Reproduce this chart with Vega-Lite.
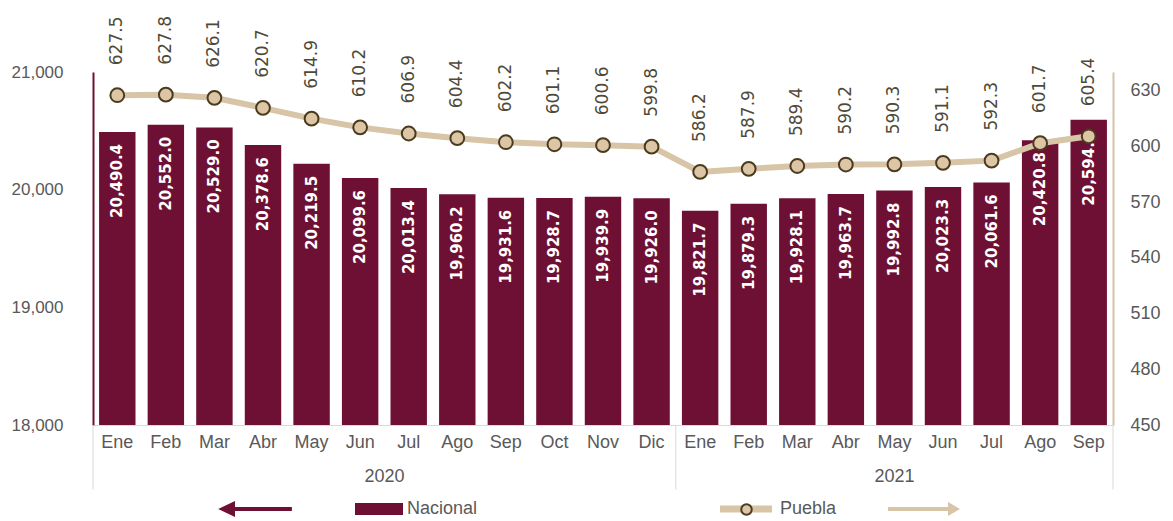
{
  "$schema": "https://vega.github.io/schema/vega-lite/v6.json",
  "width": 1020,
  "height": 353,
  "autosize": {"type": "none"},
  "padding": {"left": 93, "top": 72, "right": 60, "bottom": 96},
  "background": "white",
  "data": {
    "values": [
      {"key": "Ene 2020", "mes": "Ene", "anio": "2020", "nacional": 20490.4, "puebla": 627.5},
      {"key": "Feb 2020", "mes": "Feb", "anio": "2020", "nacional": 20552.0, "puebla": 627.8},
      {"key": "Mar 2020", "mes": "Mar", "anio": "2020", "nacional": 20529.0, "puebla": 626.1},
      {"key": "Abr 2020", "mes": "Abr", "anio": "2020", "nacional": 20378.6, "puebla": 620.7},
      {"key": "May 2020", "mes": "May", "anio": "2020", "nacional": 20219.5, "puebla": 614.9},
      {"key": "Jun 2020", "mes": "Jun", "anio": "2020", "nacional": 20099.6, "puebla": 610.2},
      {"key": "Jul 2020", "mes": "Jul", "anio": "2020", "nacional": 20013.4, "puebla": 606.9},
      {"key": "Ago 2020", "mes": "Ago", "anio": "2020", "nacional": 19960.2, "puebla": 604.4},
      {"key": "Sep 2020", "mes": "Sep", "anio": "2020", "nacional": 19931.6, "puebla": 602.2},
      {"key": "Oct 2020", "mes": "Oct", "anio": "2020", "nacional": 19928.7, "puebla": 601.1},
      {"key": "Nov 2020", "mes": "Nov", "anio": "2020", "nacional": 19939.9, "puebla": 600.6},
      {"key": "Dic 2020", "mes": "Dic", "anio": "2020", "nacional": 19926.0, "puebla": 599.8},
      {"key": "Ene 2021", "mes": "Ene", "anio": "2021", "nacional": 19821.7, "puebla": 586.2},
      {"key": "Feb 2021", "mes": "Feb", "anio": "2021", "nacional": 19879.3, "puebla": 587.9},
      {"key": "Mar 2021", "mes": "Mar", "anio": "2021", "nacional": 19928.1, "puebla": 589.4},
      {"key": "Abr 2021", "mes": "Abr", "anio": "2021", "nacional": 19963.7, "puebla": 590.2},
      {"key": "May 2021", "mes": "May", "anio": "2021", "nacional": 19992.8, "puebla": 590.3},
      {"key": "Jun 2021", "mes": "Jun", "anio": "2021", "nacional": 20023.3, "puebla": 591.1},
      {"key": "Jul 2021", "mes": "Jul", "anio": "2021", "nacional": 20061.6, "puebla": 592.3},
      {"key": "Ago 2021", "mes": "Ago", "anio": "2021", "nacional": 20420.8, "puebla": 601.7},
      {"key": "Sep 2021", "mes": "Sep", "anio": "2021", "nacional": 20594.9, "puebla": 605.4}
    ]
  },
  "layer": [
    {
      "layer": [
        {
          "mark": {"type": "bar"},
          "encoding": {
            "x": {
              "field": "key", "type": "nominal", "sort": null,
              "scale": {
                "domain": ["Ene 2020","Feb 2020","Mar 2020","Abr 2020","May 2020","Jun 2020","Jul 2020","Ago 2020","Sep 2020","Oct 2020","Nov 2020","Dic 2020","Ene 2021","Feb 2021","Mar 2021","Abr 2021","May 2021","Jun 2021","Jul 2021","Ago 2021","Sep 2021"],
                "paddingInner": 0.25, "paddingOuter": 0.125
              },
              "axis": {
                "title": null, "labelAngle": 0, "ticks": false,
                "domainColor": "#d9d9d9", "domainWidth": 1,
                "labelPadding": 8, "labelBaseline": "top",
                "labelExpr": "split(datum.label, ' ')[0]",
                "labelFont": "Liberation Sans Narrow, Liberation Sans, sans-serif",
                "labelFontSize": 18, "labelColor": "#595959"
              }
            },
            "y": {
              "field": "nacional", "type": "quantitative",
              "scale": {"domain": [18000, 21000], "zero": false, "nice": false},
              "axis": {
                "title": null, "orient": "left", "values": [18000, 19000, 20000, 21000],
                "format": ",d", "ticks": false, "grid": false,
                "domainColor": "#6e1034", "domainWidth": 2,
                "labelPadding": 30,
                "labelFont": "Liberation Sans Narrow, Liberation Sans, sans-serif",
                "labelFontSize": 17, "labelColor": "#595959"
              }
            },
            "y2": {"datum": 18000},
            "fill": {
              "datum": "Nacional", "type": "nominal",
              "scale": {"range": ["#6e1034"]},
              "legend": {
                "title": null, "orient": "none", "legendX": 262, "legendY": 413,
                "padding": 0, "symbolSize": 2304, "symbolStrokeWidth": 0,
                "symbolType": "M-1,-0.25H1V0.25H-1Z M-6.7,0L-6,-0.33L-6,-0.083H-3.63V0.083H-6L-6,0.33Z",
                "labelOffset": 4,
                "labelFont": "Liberation Sans Narrow, Liberation Sans, sans-serif",
                "labelFontSize": 18, "labelColor": "#595959"
              }
            }
          }
        },
        {
          "mark": {"type": "text", "angle": 270, "align": "right", "baseline": "middle", "dx": -12, "fill": "white", "font": "DejaVu Sans", "fontWeight": "bold", "fontSize": 15},
          "encoding": {
            "x": {"field": "key", "type": "nominal", "axis": {"title": null}},
            "y": {"field": "nacional", "type": "quantitative", "axis": {"title": null}},
            "text": {"field": "nacional", "type": "quantitative", "format": ",.1f"}
          }
        },
        {
          "transform": [{"filter": "datum.mes == 'Ene'"}],
          "mark": {"type": "rule", "color": "#d9d9d9", "strokeWidth": 1},
          "encoding": {
            "x": {"field": "key", "type": "nominal", "bandPosition": -0.1667, "axis": {"title": null}},
            "y": {"datum": 18000, "axis": {"title": null}},
            "y2": {"datum": 17452}
          }
        },
        {
          "transform": [{"filter": "datum.key == 'Sep 2021'"}],
          "mark": {"type": "rule", "color": "#d9d9d9", "strokeWidth": 1},
          "encoding": {
            "x": {"field": "key", "type": "nominal", "bandPosition": 1.1667, "axis": {"title": null}},
            "y": {"datum": 18000, "axis": {"title": null}},
            "y2": {"datum": 17452}
          }
        },
        {
          "transform": [{"filter": "datum.key == 'Jul 2020'"}],
          "mark": {"type": "text", "baseline": "middle", "align": "center", "font": "Liberation Sans Narrow, Liberation Sans, sans-serif", "fontSize": 18, "fill": "#595959"},
          "encoding": {
            "x": {"field": "key", "type": "nominal", "bandPosition": -0.1667, "axis": {"title": null}},
            "y": {"datum": 17554, "axis": {"title": null}},
            "text": {"field": "anio"}
          }
        },
        {
          "transform": [{"filter": "datum.key == 'May 2021'"}],
          "mark": {"type": "text", "baseline": "middle", "align": "center", "font": "Liberation Sans Narrow, Liberation Sans, sans-serif", "fontSize": 18, "fill": "#595959"},
          "encoding": {
            "x": {"field": "key", "type": "nominal", "axis": {"title": null}},
            "y": {"datum": 17554, "axis": {"title": null}},
            "text": {"field": "anio"}
          }
        }
      ]
    },
    {
      "layer": [
        {
          "mark": {"type": "line", "strokeWidth": 6},
          "encoding": {
            "x": {"field": "key", "type": "nominal", "axis": {"title": null}},
            "y": {
              "field": "puebla", "type": "quantitative",
              "scale": {"domain": [450, 640], "zero": false, "nice": false},
              "axis": {
                "title": null, "orient": "right", "values": [450, 480, 510, 540, 570, 600, 630],
                "ticks": false, "grid": false,
                "domainColor": "#d4c4a8", "domainWidth": 2,
                "labelPadding": 17,
                "labelFont": "Liberation Sans Narrow, Liberation Sans, sans-serif",
                "labelFontSize": 18, "labelColor": "#595959"
              }
            },
            "stroke": {
              "datum": "Puebla", "type": "nominal",
              "scale": {"range": ["#d8c4a6"]},
              "legend": {
                "title": null, "orient": "none", "legendX": 627, "legendY": 411,
                "padding": 0, "symbolSize": 2704,
                "symbolType": "M-1,-0.13H1V0.13H-1Z M5.46,-0.077H7.77V-0.27L8.23,0L7.77,0.27V0.077H5.46Z",
                "symbolFillColor": "#d8c4a6", "symbolStrokeWidth": 0,
                "labelOffset": 8,
                "labelFont": "Liberation Sans Narrow, Liberation Sans, sans-serif",
                "labelFontSize": 18, "labelColor": "#595959",
                "encode": {"symbols": {"update": {"fill": {"value": "#d8c4a6"}, "strokeWidth": {"value": 0}}}}
              }
            }
          }
        },
        {
          "mark": {"type": "circle", "size": 190, "stroke": "#4b3b1e", "strokeWidth": 2, "opacity": 1},
          "encoding": {
            "x": {"field": "key", "type": "nominal", "axis": {"title": null}},
            "y": {"field": "puebla", "type": "quantitative", "axis": {"title": null}},
            "fill": {
              "datum": "Puebla·", "type": "nominal",
              "scale": {"range": ["#dcc6a6"]},
              "legend": {
                "title": null, "orient": "none", "legendX": 647, "legendY": 431,
                "padding": 0, "symbolSize": 110, "symbolType": "circle",
                "symbolStrokeColor": "#4b3b1e", "symbolStrokeWidth": 2,
                "labelExpr": "''", "labelFontSize": 1
              }
            }
          }
        },
        {
          "mark": {"type": "text", "angle": 270, "align": "left", "baseline": "middle", "dx": 30, "fill": "#4f4a38", "font": "DejaVu Sans", "fontSize": 17},
          "encoding": {
            "x": {"field": "key", "type": "nominal", "axis": {"title": null}},
            "y": {"field": "puebla", "type": "quantitative", "axis": {"title": null}},
            "text": {"field": "puebla", "type": "quantitative", "format": ".1f"}
          }
        }
      ]
    }
  ],
  "resolve": {"scale": {"y": "independent", "fill": "independent"}},
  "config": {"view": {"stroke": null}}
}
